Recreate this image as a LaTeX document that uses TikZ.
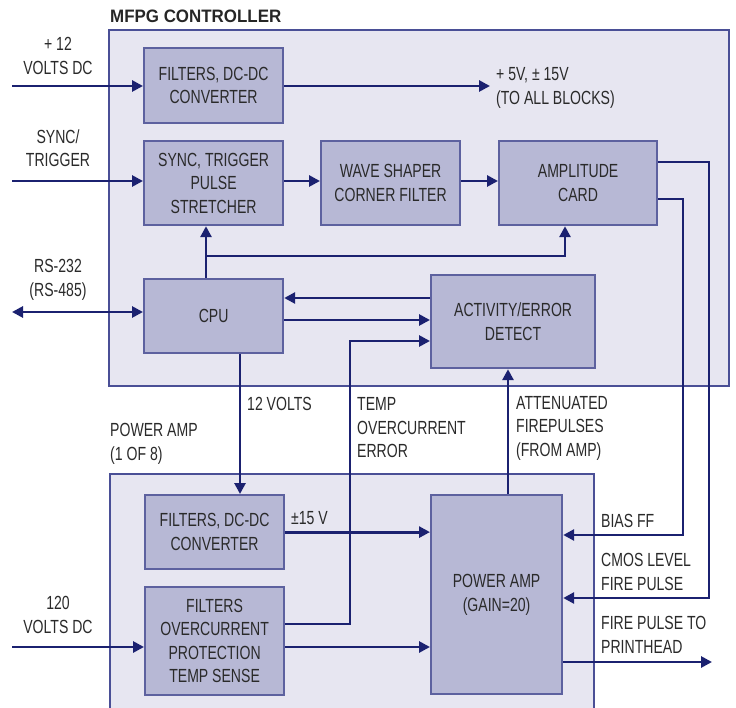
\documentclass[tikz,border=0pt]{standalone}
\usepackage{fontspec}
\setmainfont[FakeStretch=0.74]{Liberation Sans}
\newfontfamily\titlefont[FakeStretch=0.94]{Liberation Sans}
\usetikzlibrary{arrows.meta, positioning, calc}
\definecolor{panelfill}{HTML}{E7E6F1}
\definecolor{panelline}{HTML}{4A4F96}
\definecolor{blockfill}{HTML}{B7B8D5}
\definecolor{blockline}{HTML}{5D619F}
\definecolor{navywire}{HTML}{1B2170}
\definecolor{labeltext}{HTML}{2A2A2A}

\begin{document}
\begin{tikzpicture}[
  x=1pt, y=-1pt,
  >={Triangle[length=11pt,width=11pt]},
  panel/.style={draw=panelline, fill=panelfill, line width=1.6pt},
  block/.style={draw=blockline, fill=blockfill, line width=2.2pt, anchor=north west,
    align=center, inner sep=0pt, text=labeltext, font=\fontsize{19}{23.5}\selectfont},
  lbl/.style={align=left, anchor=west, inner sep=0pt, text=labeltext,
    font=\fontsize{19}{23.5}\selectfont},
  clbl/.style={align=center, inner sep=0pt, text=labeltext,
    font=\fontsize{19}{23.5}\selectfont},
  wire/.style={draw=navywire, line width=2.8pt},
  arr/.style={wire, ->},
]
\useasboundingbox (0,0) rectangle (736,708);

% --- Panels ---
\draw[panel] (109,30) rectangle (729,386);
\draw[panel] (110,474) rectangle (594,720);
\node[anchor=west, inner sep=0pt, text=black!85,
  font=\titlefont\bfseries\fontsize{18}{20}\selectfont] (title) at (110,16.5) {MFPG CONTROLLER};

% --- Controller blocks ---
\node[block, minimum width=139pt, minimum height=75pt] (pwr) at (143,47) {FILTERS, DC-DC\\CONVERTER};
\node[block, minimum width=139pt, minimum height=84pt] (sync) at (143,140) {SYNC, TRIGGER\\PULSE\\STRETCHER};
\node[block, minimum width=139pt, minimum height=84pt] (wave) at (320,140) {WAVE SHAPER\\CORNER FILTER};
\node[block, minimum width=158pt, minimum height=84pt] (ampc) at (498,140) {AMPLITUDE\\CARD};
\node[block, minimum width=139pt, minimum height=74pt] (cpu) at (143,278) {CPU};
\node[block, minimum width=164pt, minimum height=93pt] (act) at (430,274) {ACTIVITY/ERROR\\DETECT};

% --- Power amp blocks ---
\node[block, minimum width=139pt, minimum height=74pt] (pfilt) at (144,494) {FILTERS, DC-DC\\CONVERTER};
\node[block, minimum width=139pt, minimum height=108pt] (ocp) at (144,586) {FILTERS\\OVERCURRENT\\PROTECTION\\TEMP SENSE};
\node[block, minimum width=131pt, minimum height=199pt] (pamp) at (430,494) {POWER AMP\\(GAIN=20)};

% --- Free ends and bends ---
\coordinate (in12) at (12,86);
\coordinate (allblk) at (490,86);
\coordinate (insync) at (12,181);
\coordinate (cpuup) at (206,256);
\coordinate (ampup) at (565,256);
\coordinate (rs) at (12,312);
\coordinate (yback) at (0,298);
\coordinate (yfwd) at (0,320);
\coordinate (volt12) at (240,0);
\coordinate (in120) at (12,647);
\coordinate (tmpout) at (0,624);
\coordinate (tmpturn) at (350,341);
\coordinate (attn) at (508,0);
\coordinate (cmos) at (709,162);
\coordinate (bias) at (683,199);
\coordinate (ycmos) at (0,598);
\coordinate (ybias) at (0,535);
\coordinate (fireout) at (712,662);

% --- Controller connectors ---
\draw[arr] (in12) -- (pwr.west |- in12);
\draw[arr] (pwr.east |- allblk) -- (allblk);
\draw[arr] (insync) -- (sync.west |- insync);
\draw[arr] (sync.east |- insync) -- (wave.west |- insync);
\draw[arr] (wave.east |- insync) -- (ampc.west |- insync);
\draw[arr] (cpu.north -| cpuup) -- (sync.south -| cpuup);
\draw[arr] (cpuup) -- (ampup) -- (ampc.south -| ampup);
\draw[wire, <->] (rs) -- (cpu.west |- rs);
\draw[arr] (act.west |- yback) -- (cpu.east |- yback);
\draw[arr] (cpu.east |- yfwd) -- (act.west |- yfwd);

% --- Power amp connectors ---
\draw[arr] (cpu.south -| volt12) -- (pfilt.north -| volt12);
\draw[arr] (pfilt.east) -- (pamp.west |- pfilt.east);
\draw[arr] (in120) -- (ocp.west |- in120);
\draw[arr] (ocp.east |- in120) -- (pamp.west |- in120);
\draw[arr] (ocp.east |- tmpout) -| (tmpturn) -- (act.west |- tmpturn);
\draw[arr] (pamp.north -| attn) -- (act.south -| attn);
\draw[arr] (ampc.east |- bias) -- (bias) |- (pamp.east |- ybias);
\draw[arr] (ampc.east |- cmos) -- (cmos) |- (pamp.east |- ycmos);
\draw[arr] (pamp.east |- fireout) -- (fireout);

% --- Labels ---
\node[clbl] (l12v) at (58,56) {+ 12\\VOLTS DC};
\node[clbl] (lsync) at (58,148) {SYNC/\\TRIGGER};
\node[clbl] (lrs) at (58,280) {RS-232\\(RS-485)};
\node[lbl] (lall) at (496,88) {+ 5V, ± 15V\\(TO ALL BLOCKS)};
\node[lbl] (l12) at (247,404) {12 VOLTS};
\node[lbl] (lpa) at (110,444) {POWER AMP\\(1 OF 8)};
\node[lbl] (ltmp) at (357,428) {TEMP\\OVERCURRENT\\ERROR};
\node[lbl] (lattn) at (516,428) {ATTENUATED\\FIREPULSES\\(FROM AMP)};
\node[lbl] (l15) at (291,518) {±15 V};
\node[clbl] (l120) at (58,615) {120\\VOLTS DC};
\node[lbl] (lbias) at (601,521) {BIAS FF};
\node[lbl] (lcmos) at (601,572) {CMOS LEVEL\\FIRE PULSE};
\node[lbl] (lfire) at (601,635) {FIRE PULSE TO\\PRINTHEAD};

\end{tikzpicture}
\end{document}
